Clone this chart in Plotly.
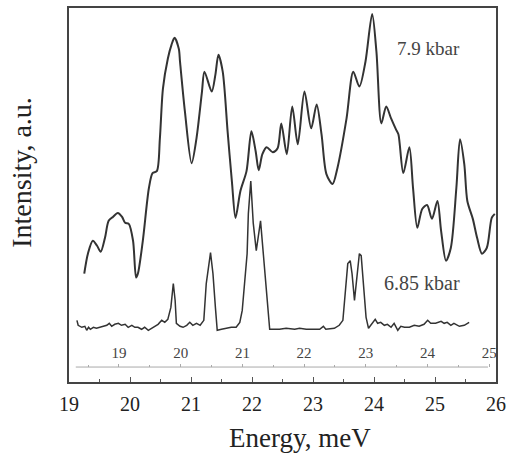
import plotly.graph_objects as go

# 7.9 kbar spectrum (energy meV, intensity a.u.)
e_79 = [19.25, 19.31, 19.39, 19.46, 19.52, 19.59, 19.65, 19.72, 19.80, 19.87, 19.92, 19.98,
        20.05, 20.10, 20.13, 20.21, 20.31, 20.37, 20.44, 20.49, 20.54, 20.62, 20.68, 20.73,
        20.80, 20.82, 20.90, 21.01, 21.09, 21.18, 21.22, 21.34, 21.40, 21.45, 21.52, 21.60,
        21.67, 21.73, 21.81, 21.91, 21.99, 22.06, 22.11, 22.17, 22.24, 22.34, 22.42, 22.48,
        22.57, 22.66, 22.75, 22.86, 22.97, 23.06, 23.14, 23.22, 23.32, 23.40, 23.55, 23.66,
        23.76, 23.86, 23.97, 24.04, 24.12, 24.20, 24.28, 24.36, 24.40, 24.48, 24.58, 24.64,
        24.71, 24.79, 24.87, 24.95, 25.04, 25.10, 25.18, 25.26, 25.35, 25.41, 25.48, 25.53,
        25.62, 25.69, 25.77, 25.85, 25.93, 25.98]
i_79 = [109, 129, 142, 137, 131, 145, 162, 166, 170, 166, 160, 159,
        142, 105, 109, 142, 195, 210, 212, 245, 295, 325, 339, 346,
        335, 322, 272, 220, 245, 292, 312, 292, 309, 329, 312, 252,
        202, 165, 192, 212, 252, 232, 213, 229, 236, 231, 235, 260,
        229, 277, 239, 292, 255, 279, 249, 209, 199, 215, 265, 312,
        297, 322, 370, 332, 260, 277, 265, 254, 249, 210, 236, 195,
        155, 174, 178, 164, 182, 152, 122, 135, 195, 244, 219, 182,
        164, 145, 129, 135, 165, 169]

# 6.85 kbar spectrum
e_685 = [19.13, 19.15, 19.21, 19.26, 19.29, 19.32, 19.35, 19.40, 19.45, 19.51, 19.56, 19.62,
         19.66, 19.70, 19.75, 19.81, 19.86, 19.92, 19.97, 20.03, 20.08, 20.13, 20.19, 20.24,
         20.30, 20.35, 20.41, 20.46, 20.52, 20.57, 20.62, 20.67, 20.71, 20.74, 20.76, 20.82,
         20.87, 20.93, 20.98, 21.03, 21.09, 21.15, 21.21, 21.25, 21.32, 21.36, 21.40, 21.43,
         21.50, 21.58, 21.66, 21.74, 21.80, 21.84, 21.88, 21.92, 21.94, 21.98, 22.02, 22.07,
         22.14, 22.18, 22.23, 22.29, 22.40, 22.45, 22.56, 22.70, 22.78, 22.89, 23.00, 23.11,
         23.17, 23.21, 23.35, 23.43, 23.49, 23.53, 23.57, 23.61, 23.64, 23.68, 23.72, 23.76,
         23.79, 23.82, 23.87, 23.91, 23.98, 24.02, 24.06, 24.11, 24.17, 24.22, 24.28, 24.33,
         24.39, 24.44, 24.50, 24.58, 24.66, 24.74, 24.82, 24.88, 24.93, 25.01, 25.10, 25.15,
         25.20, 25.26, 25.31, 25.40, 25.48, 25.56]
i_685 = [62, 57, 55, 56, 52, 55, 53, 55, 54, 55, 56, 57,
         59, 56, 58, 59, 57, 58, 55, 57, 55, 55, 53, 55,
         52, 54, 56, 58, 62, 60, 63, 75, 99, 82, 59, 56,
         55, 57, 60, 57, 59, 57, 62, 99, 130, 109, 75, 52,
         53, 54, 55, 55, 60, 72, 99, 129, 169, 202, 160, 132,
         162, 135, 95, 53, 53, 53, 54, 53, 54, 53, 53, 53,
         56, 53, 54, 57, 62, 89, 119, 122, 109, 82, 109, 129,
         127, 102, 65, 54, 59, 63, 59, 60, 57, 58, 55, 59,
         52, 56, 55, 55, 57, 56, 58, 62, 59, 59, 61, 59,
         60, 57, 59, 56, 57, 60]

main_ticks = [19, 20, 21, 22, 23, 24, 25, 26]
inner_ticks = [19, 20, 21, 22, 23, 24, 25]
labels = ["7.9 kbar", "6.85 kbar"]

FONT = "Liberation Serif"
INK = "#333333"

fig = go.Figure()
fig.add_trace(go.Scatter(x=e_79, y=i_79, mode="lines",
                         line=dict(color=INK, width=2, shape="spline", smoothing=0.8),
                         showlegend=False, hoverinfo="skip"))
fig.add_trace(go.Scatter(x=e_685, y=i_685, mode="lines", line=dict(color=INK, width=1.5),
                         showlegend=False, hoverinfo="skip"))
# invisible trace to activate the inner energy axis
fig.add_trace(go.Scatter(x=[inner_ticks[0]], y=[0], xaxis="x2", mode="markers",
                         marker=dict(opacity=0), showlegend=False, hoverinfo="skip"))

fig.update_layout(
    width=512, height=458,
    margin=dict(l=69, r=15, t=6, b=76),
    paper_bgcolor="white", plot_bgcolor="white",
    font=dict(family=FONT, color="#222222"),
    xaxis=dict(range=[19, 26], tickmode="array", tickvals=main_ticks,
               ticktext=[str(t) for t in main_ticks],
               ticks="inside", ticklen=5, tickcolor="#555", tickwidth=1,
               minor=dict(dtick=0.5, ticks="inside", ticklen=3, tickcolor="#555"),
               showline=True, mirror=True, linecolor="#444", linewidth=2,
               showgrid=False, zeroline=False,
               tickfont=dict(size=20, family=FONT, color="#222"), ticklabelstandoff=3),
    xaxis2=dict(range=[18.19, 25.11], overlaying="x", anchor="free", position=0.04, side="top",
                tickmode="array", tickvals=inner_ticks, ticktext=[str(t) for t in inner_ticks],
                ticks="outside", ticklen=3, tickcolor="#aaa",
                minor=dict(dtick=0.5, ticks="outside", ticklen=2, tickcolor="#aaa"),
                showline=False, showgrid=False, zeroline=False,
                tickfont=dict(size=15, family=FONT, color="#444")),
    yaxis=dict(range=[0, 376], showticklabels=False, ticks="", showgrid=False, zeroline=False,
               showline=True, mirror=True, linecolor="#444", linewidth=2),
    shapes=[dict(type="line", xref="x2", yref="paper", x0=18.30, x1=24.98, y0=0.04, y1=0.04,
                 line=dict(color="#aaa", width=1))],
    annotations=[
        dict(text=labels[0], x=24.90, y=335, xref="x", yref="y", showarrow=False,
             font=dict(size=19, family=FONT, color="#444")),
        dict(text=labels[1], x=24.79, y=100, xref="x", yref="y", showarrow=False,
             font=dict(size=20, family=FONT, color="#444")),
        dict(text="Energy, meV", x=0.54, y=-0.149, xref="paper", yref="paper", showarrow=False,
             xanchor="center", yanchor="middle", font=dict(size=27, family=FONT, color="#222")),
        dict(text="Intensity, a.u.", x=-0.112, y=0.56, xref="paper", yref="paper", showarrow=False,
             textangle=-90, xanchor="center", yanchor="middle",
             font=dict(size=28, family=FONT, color="#222")),
    ],
)

fig.write_html("out.html", config={"displayModeBar": False},
               post_script="document.body.style.margin='0';")
